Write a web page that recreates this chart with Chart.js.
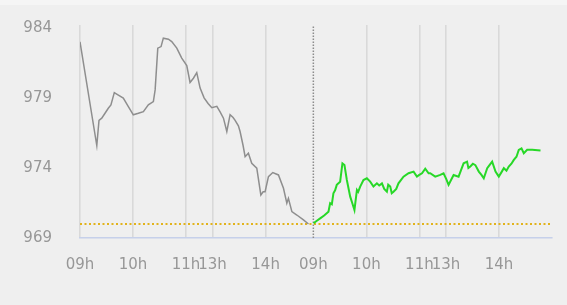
<!DOCTYPE html>
<html>
<head>
<meta charset="utf-8">
<script src="https://cdn.jsdelivr.net/npm/chart.js@4.4.0/dist/chart.umd.min.js"></script>
<style>
  html, body { margin: 0; padding: 0; }
  body { width: 567px; height: 305px; overflow: hidden;
         background: linear-gradient(#f5f5f5 0, #f5f5f5 5px, #efefef 5px, #efefef 100%); }
  canvas { display: block; }
</style>
</head>
<body>
<canvas id="c" width="567" height="305"></canvas>
<script>
// Session-minute positions (day 1 starts at 0 = 09:00, lunch break compressed, day 2 starts at 264)
const tickPositions = [0, 60, 120, 150, 210, 264, 324, 384, 414, 474];
const tickLabels    = ['09h', '10h', '11h', '13h', '14h', '09h', '10h', '11h', '13h', '14h'];
const yTicks = [969, 974, 979, 984];
const axisMinX = 0, axisMaxX = 534;
const axisMinY = 969, axisMaxY = 984.2;
const refPrice = 970.0;
const dayBreak = 264;

const day1Minutes = [0, 19, 21.5, 24.6, 28.3, 32, 35, 38.8, 43.4, 49, 54.7, 60.3, 66, 71.7, 77.3, 83, 85, 88, 91.7, 94.3, 100, 103.8, 109.5, 115.1, 120.8, 124.5, 128.3, 132.1, 135.9, 140.4, 144.9, 149.1, 154.8, 158.5, 162.3, 166.1, 169.8, 173.2, 175.5, 179.2, 181.1, 184.5, 186.8, 190.5, 194.3, 200, 204.6, 207.2, 209.4, 213.2, 218.1, 224.5, 230.2, 234, 235.8, 239.7, 245.3, 252.8, 258.5];
const day1Values  = [983.0, 975.6, 977.4, 977.55, 977.9, 978.26, 978.5, 979.38, 979.2, 978.98, 978.38, 977.79, 977.9, 978.02, 978.5, 978.74, 979.57, 982.55, 982.66, 983.26, 983.19, 983.02, 982.55, 981.84, 981.3, 980.1, 980.4, 980.8, 979.7, 979.0, 978.6, 978.3, 978.4, 978.0, 977.55, 976.6, 977.8, 977.6, 977.4, 977.0, 976.6, 975.6, 974.8, 975.05, 974.33, 973.98, 972.07, 972.3, 972.3, 973.38, 973.67, 973.5, 972.55, 971.48, 971.83, 970.88, 970.64, 970.29, 970.0];

const day2Minutes = [264.1, 267.2, 271.7, 276.2, 281.1, 283, 284.9, 286.7, 288.6, 290.5, 294.3, 296.9, 299.2, 301.9, 305.7, 308, 310.5, 313.3, 314.7, 317, 320.7, 324.5, 328.3, 332, 335.9, 338.5, 341.6, 344.2, 347.2, 348.7, 351, 352.7, 354.7, 357.8, 360.3, 366, 371.7, 377.4, 381.2, 383.8, 386.9, 390.6, 394.4, 396.2, 401.9, 407.6, 411.3, 414.4, 417, 419.5, 422.7, 428.3, 431.4, 434, 437.9, 439.4, 441.6, 444.5, 447.3, 451.2, 454.2, 456.8, 460.7, 463.3, 466.3, 470.1, 473.8, 476.9, 479.5, 482.5, 485.1, 488.1, 490.8, 493.8, 496.4, 499.5, 502.1, 505.9, 511.6, 521];
const day2Values  = [970.05, 970.2, 970.4, 970.6, 970.88, 971.48, 971.4, 972.19, 972.4, 972.79, 973.02, 974.33, 974.21, 973.14, 971.95, 971.5, 971.0, 972.43, 972.3, 972.67, 973.14, 973.26, 973.02, 972.67, 972.9, 972.75, 972.9, 972.5, 972.3, 972.8, 972.67, 972.2, 972.3, 972.5, 972.9, 973.38, 973.62, 973.74, 973.38, 973.5, 973.62, 973.95, 973.62, 973.62, 973.38, 973.5, 973.62, 973.2, 972.79, 973.1, 973.5, 973.38, 973.9, 974.33, 974.45, 974.0, 974.1, 974.3, 974.2, 973.74, 973.5, 973.26, 973.98, 974.2, 974.45, 973.74, 973.38, 973.7, 973.98, 973.8, 974.1, 974.3, 974.57, 974.8, 975.29, 975.4, 975.05, 975.29, 975.3, 975.24];

const toPoints = (xs, ys) => xs.map((x, i) => ({ x: x, y: ys[i] }));
const labelFor = v => { const i = tickPositions.indexOf(v); return i >= 0 ? tickLabels[i] : ''; };

new Chart(document.getElementById('c'), {
  type: 'line',
  data: {
    datasets: [
      { data: toPoints(day1Minutes, day1Values), borderColor: '#8e8e8e', borderWidth: 1.5, pointRadius: 0, tension: 0, order: 0 },
      { data: toPoints(day2Minutes, day2Values), borderColor: '#27d827', borderWidth: 2, pointRadius: 0, tension: 0, order: 0 },
      { data: [{ x: axisMinX, y: refPrice }, { x: axisMaxX, y: refPrice }], borderColor: '#e2b31c', borderWidth: 2, borderDash: [2, 2.5], pointRadius: 0, order: 1 },
      { data: [{ x: dayBreak, y: axisMinY }, { x: dayBreak, y: axisMaxY }], borderColor: '#8c8c8c', borderWidth: 1.5, borderDash: [1.5, 1.5], pointRadius: 0, order: 1 }
    ]
  },
  options: {
    responsive: false,
    animation: false,
    devicePixelRatio: 1,
    layout: { padding: { top: 25, right: 15, left: 0, bottom: 0 } },
    plugins: { legend: { display: false }, tooltip: { enabled: false } },
    scales: {
      x: {
        type: 'linear', min: axisMinX, max: axisMaxX,
        afterBuildTicks: s => { s.ticks = tickPositions.map(v => ({ value: v })); },
        afterFit: s => { s.height = 67; s.paddingLeft = 0; s.paddingRight = 0; },
        ticks: { autoSkip: false, maxRotation: 0, minRotation: 0, padding: 18,
                 color: '#979797', font: { family: 'DejaVu Sans', size: 15 },
                 callback: v => labelFor(v) },
        grid: { drawTicks: false, lineWidth: 1.6,
                color: ctx => (ctx.tick && ctx.tick.value === dayBreak) ? 'rgba(0,0,0,0)' : '#d9d9d9' },
        border: { display: true, color: '#c6d0ea', width: 1.5 }
      },
      y: {
        min: axisMinY, max: axisMaxY,
        afterBuildTicks: s => { s.ticks = yTicks.map(v => ({ value: v })); },
        afterFit: s => { s.width = 80; s.paddingTop = 0; s.paddingBottom = 0; },
        ticks: { padding: 28, color: '#979797', font: { family: 'DejaVu Sans', size: 15 } },
        grid: { display: false, drawTicks: false },
        border: { display: false }
      }
    }
  }
});
</script>
</body>
</html>
